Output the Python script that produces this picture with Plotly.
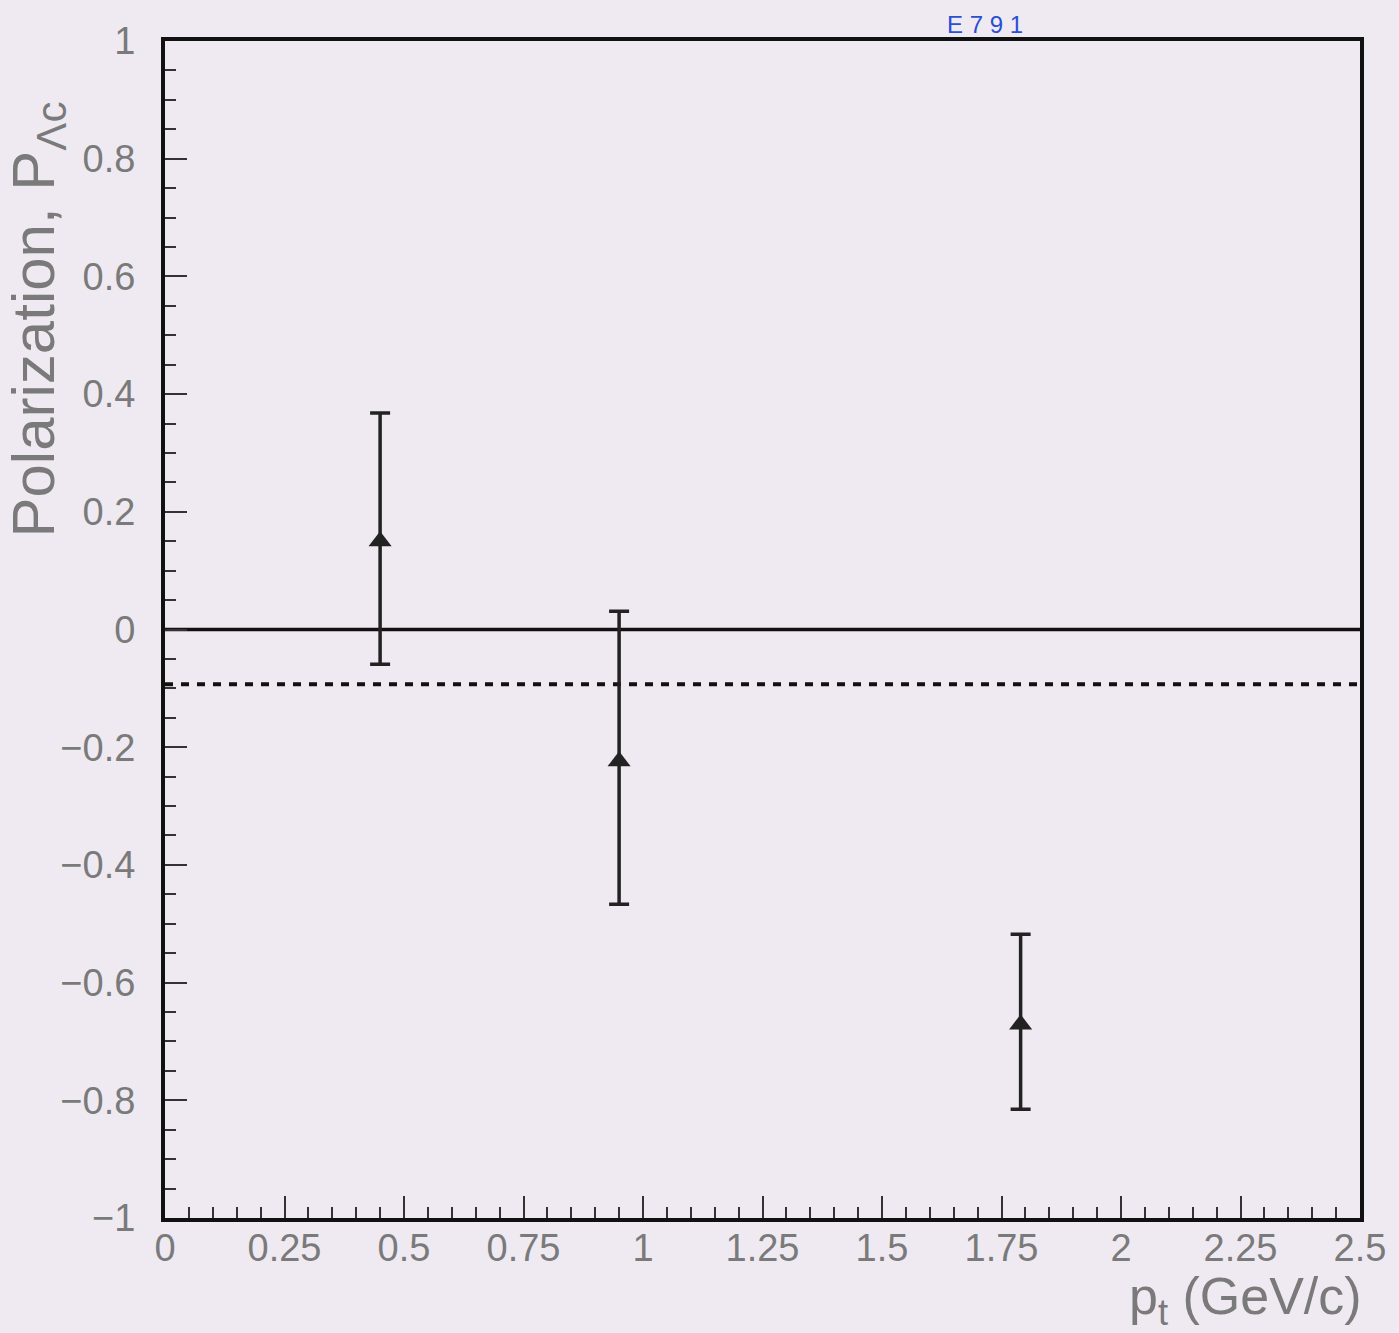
import plotly.graph_objects as go

pt = [0.45, 0.95, 1.79]
pol = [0.15, -0.224, -0.671]
err_plus = [0.218, 0.255, 0.153]
err_minus = [0.209, 0.243, 0.144]
mean_pol = -0.093
x_ticks = [0, 0.25, 0.5, 0.75, 1, 1.25, 1.5, 1.75, 2, 2.25, 2.5]
x_ticklabels = ["0", "0.25", "0.5", "0.75", "1", "1.25", "1.5", "1.75", "2", "2.25", "2.5"]
y_ticks = [-1, -0.8, -0.6, -0.4, -0.2, 0, 0.2, 0.4, 0.6, 0.8, 1]
y_ticklabels = ["\u22121", "\u22120.8", "\u22120.6", "\u22120.4", "\u22120.2", "0", "0.2", "0.4", "0.6", "0.8", "1"]

bg = "#efeaf2"
fig = go.Figure()

fig.add_trace(go.Scatter(
    x=[0, 2.5], y=[0, 0], mode="lines",
    line=dict(color="#111", width=3.5), showlegend=False, hoverinfo="skip"))
fig.add_trace(go.Scatter(
    x=[0, 2.5], y=[mean_pol, mean_pol], mode="lines",
    line=dict(color="#111", width=4, dash="8px,8px"), showlegend=False, hoverinfo="skip"))
fig.add_trace(go.Scatter(
    x=pt, y=pol, mode="markers",
    marker=dict(symbol="triangle-up", size=20, color="#222"),
    error_y=dict(type="data", symmetric=False, array=err_plus, arrayminus=err_minus,
                 color="#222", thickness=3.5, width=10),
    showlegend=False))

tickfont = dict(family="Liberation Sans, Arial, sans-serif", size=38, color="#7a7a7a")
fig.update_xaxes(
    range=[0, 2.5], tickvals=x_ticks, ticktext=x_ticklabels,
    ticks="inside", ticklen=22, tickwidth=1.5, tickcolor="#333",
    minor=dict(dtick=0.05, tick0=0, ticks="inside", ticklen=11, tickcolor="#333", tickwidth=1.5, showgrid=False),
    showline=True, linecolor="#111", linewidth=4, mirror=True,
    showgrid=False, zeroline=False, tickfont=tickfont, ticklabelstandoff=-7)
fig.update_yaxes(
    range=[-1, 1], tickvals=y_ticks, ticktext=y_ticklabels,
    ticks="inside", ticklen=22, tickwidth=1.5, tickcolor="#333",
    minor=dict(dtick=0.05, tick0=0, ticks="inside", ticklen=11, tickcolor="#333", tickwidth=1.5, showgrid=False),
    showline=True, linecolor="#111", linewidth=4, mirror=True,
    showgrid=False, zeroline=False, tickfont=tickfont, ticklabelstandoff=18)

fig.add_annotation(
    text="Polarization, P<sub>\u039bc</sub>", xref="paper", yref="paper",
    x=-0.14, y=0.95, textangle=-90, showarrow=False,
    font=dict(family="Liberation Sans, Arial, sans-serif", size=60, color="#7a7a7a"))
fig.add_annotation(
    text="p<sub>t</sub> (GeV/c)", xref="paper", yref="paper",
    x=1.003, y=-0.07, xanchor="right", yanchor="middle", showarrow=False,
    font=dict(family="Liberation Sans, Arial, sans-serif", size=52, color="#7a7a7a"))
fig.add_annotation(
    text="E 7 9 1", xref="paper", yref="paper",
    x=0.686, y=1.0, xanchor="center", yanchor="bottom", yshift=1, showarrow=False,
    font=dict(family="Liberation Sans, Arial, sans-serif", size=24, color="#2a4fd0"))

fig.update_layout(
    width=1399, height=1333,
    margin=dict(l=165, r=39, t=41, b=115),
    paper_bgcolor=bg, plot_bgcolor=bg)

fig.write_html("out.html")
